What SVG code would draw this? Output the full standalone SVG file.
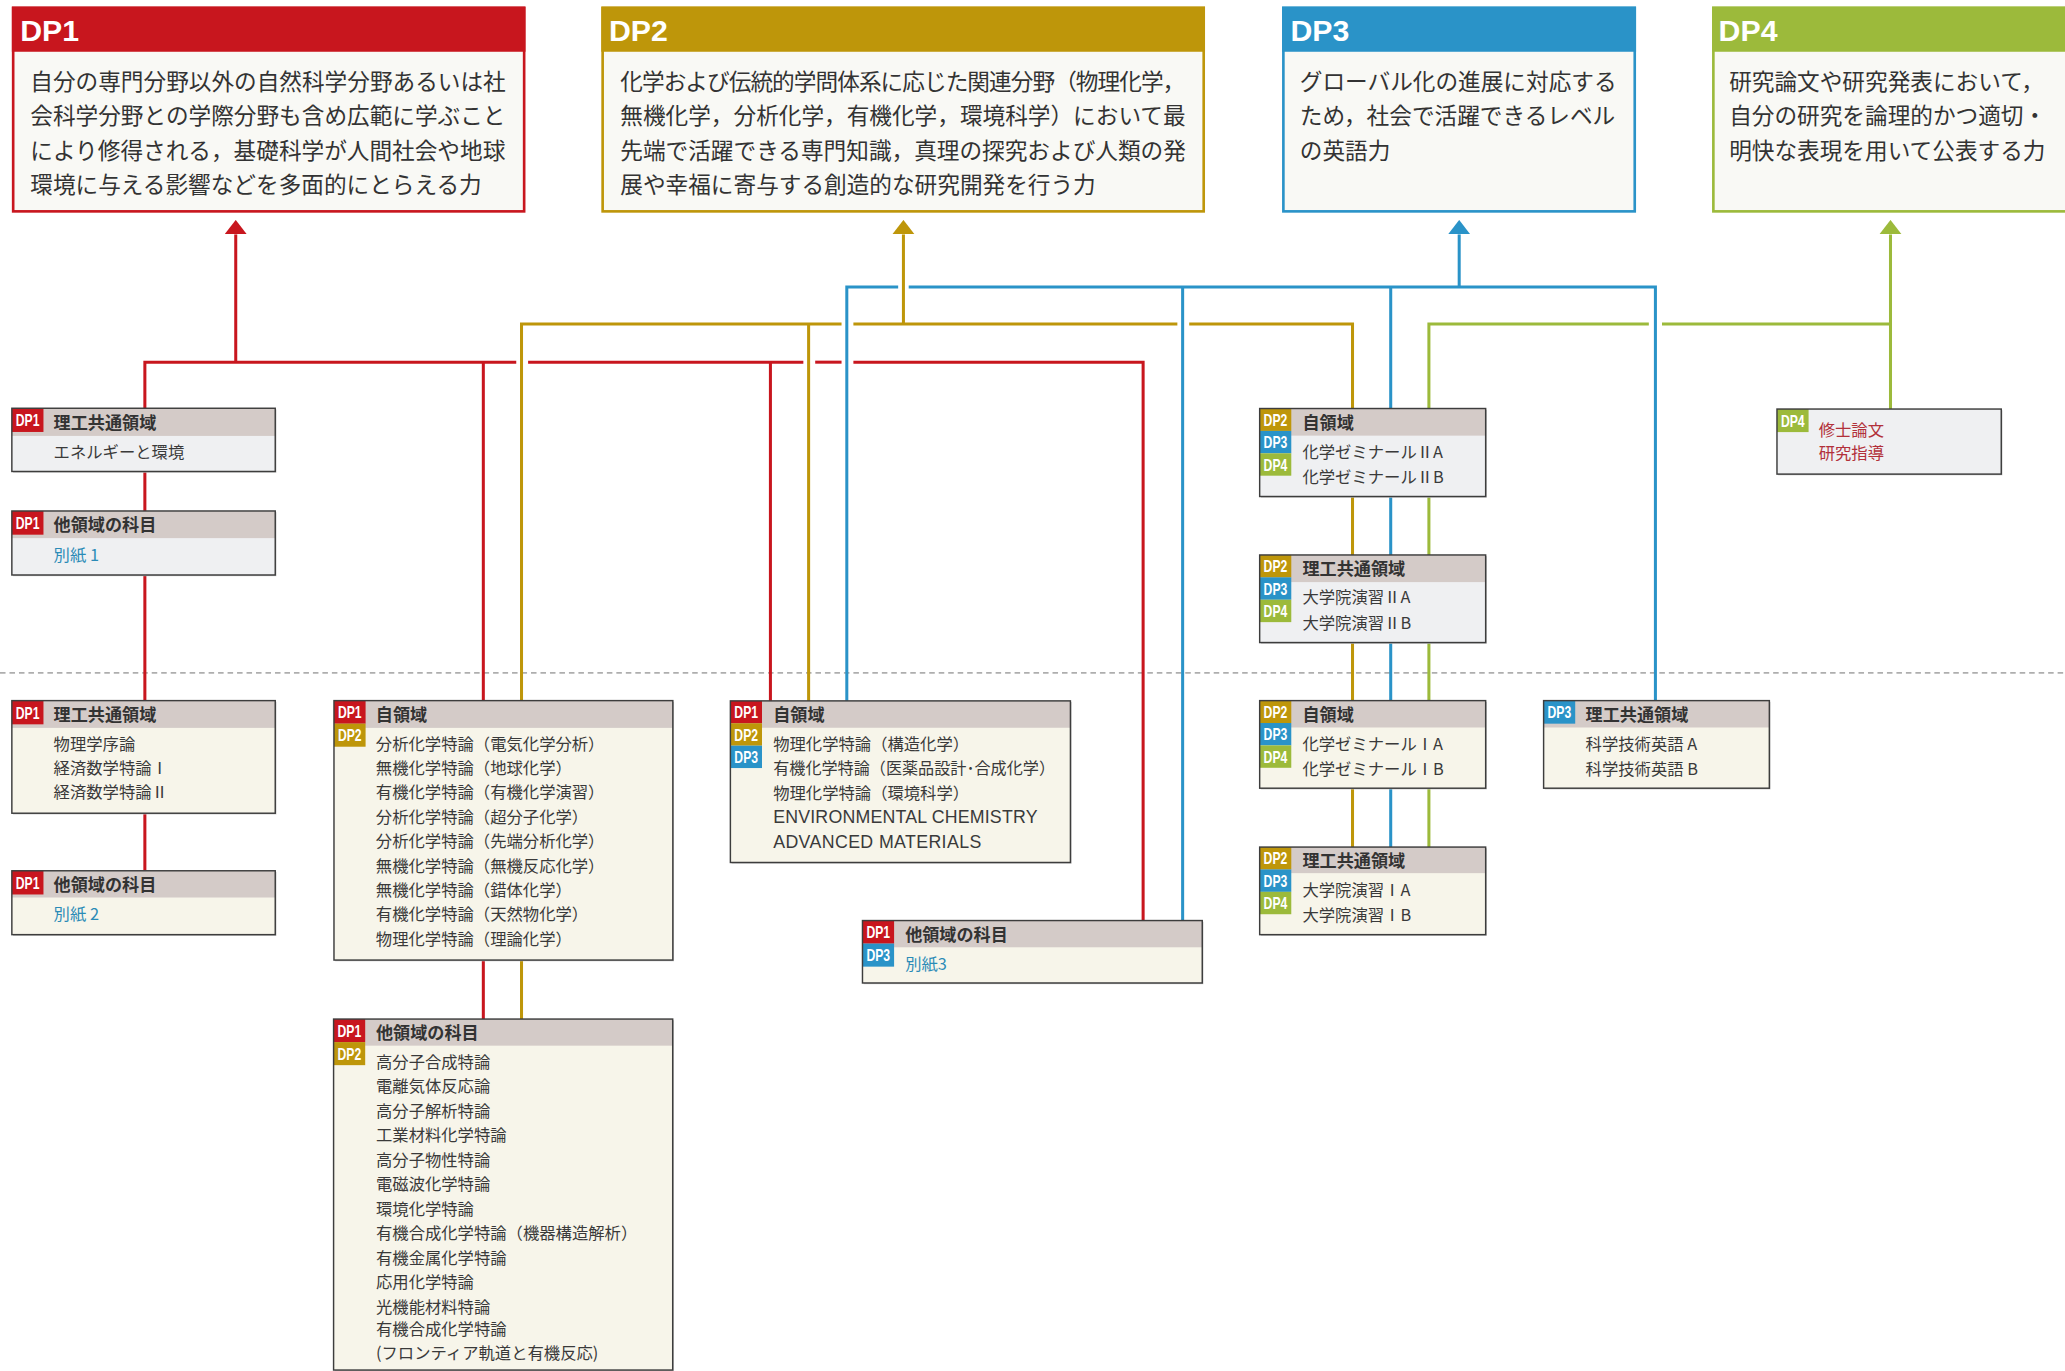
<svg xmlns="http://www.w3.org/2000/svg" width="2065" height="1371" viewBox="0 0 2065 1371">
<defs>
<style>
.ln{fill:none;stroke-width:2.3;stroke-linejoin:miter;stroke-linecap:butt}
.r{stroke:#C8161E}.g{stroke:#BE960A}.b{stroke:#2A93C8}.v{stroke:#9CBA3B}
.fr{fill:#C8161E}.fg{fill:#BE960A}.fb{fill:#2A93C8}.fv{fill:#9CBA3B}
.sh{fill:#C4C4C4}
.gy{fill:#EFF0F2}.cr{fill:#F7F5EA}.hd{fill:#D4CBC8}
.ol{fill:none;stroke:#3D3D3D;stroke-width:1.1}
.bt{font-family:"Liberation Sans",Arial,sans-serif;font-weight:bold;font-size:13px;fill:#fff}
.dh{font-family:"Liberation Sans",Arial,sans-serif;font-weight:bold;font-size:23px;fill:#fff}
.ht{font-family:"Noto Sans CJK JP",sans-serif;font-weight:bold;font-size:13px;fill:#333}
.it{font-family:"Noto Sans CJK JP",sans-serif;font-size:12.4px;fill:#3A3A3A}
.en{font-family:"Liberation Sans",Arial,sans-serif;font-size:13.5px;fill:#3A3A3A}
.lk{fill:#2B8BB7}.rt{fill:#B2303A}
.tt{font-family:"Noto Sans CJK JP",sans-serif;font-size:17.2px;fill:#333}
.tb{fill:#F9F9F5}
</style>
<marker id="a1" viewBox="0 0 11 17" refX="0" refY="8.5" markerWidth="11" markerHeight="17" markerUnits="userSpaceOnUse" orient="auto"><path d="M0,0 L11,8.5 L0,17 Z" fill="#C8161E"/></marker>
<marker id="a2" viewBox="0 0 11 17" refX="0" refY="8.5" markerWidth="11" markerHeight="17" markerUnits="userSpaceOnUse" orient="auto"><path d="M0,0 L11,8.5 L0,17 Z" fill="#BE960A"/></marker>
<marker id="a3" viewBox="0 0 11 17" refX="0" refY="8.5" markerWidth="11" markerHeight="17" markerUnits="userSpaceOnUse" orient="auto"><path d="M0,0 L11,8.5 L0,17 Z" fill="#2A93C8"/></marker>
<marker id="a4" viewBox="0 0 11 17" refX="0" refY="8.5" markerWidth="11" markerHeight="17" markerUnits="userSpaceOnUse" orient="auto"><path d="M0,0 L11,8.5 L0,17 Z" fill="#9CBA3B"/></marker>
</defs>
<rect width="2065" height="1371" fill="#fff"/>
<g transform="scale(1.31696)">
<line x1="0" y1="511" x2="1570" y2="511" stroke="#AEAEAE" stroke-width="1.3" stroke-dasharray="4.2 3"/>

<g id="connectors">
<path class="ln r" d="M110,310 V275 H392"/>
<path class="ln r" d="M401,275 H610"/>
<path class="ln r" d="M619,275 H639"/>
<path class="ln r" d="M648,275 H868 V699"/>
<path class="ln r" d="M179,275 V178" marker-end="url(#a1)"/>
<path class="ln r" d="M367,275 V532"/>
<path class="ln r" d="M585,275 V532.2"/>
<path class="ln r" d="M110,358 V388 M110,436.6 V532 M110,617.5 V661.2 M367,729 V773.8"/>

<path class="ln g" d="M396,532 V246 H639"/>
<path class="ln g" d="M648,246 H894"/>
<path class="ln g" d="M903,246 H1027 V310.2"/>
<path class="ln g" d="M686,246 V178" marker-end="url(#a2)"/>
<path class="ln g" d="M614,246 V532.2"/>
<path class="ln g" d="M396,729 V773.8 M1027,377 V421.4 M1027,487.9 V532 M1027,598.5 V643.2"/>

<path class="ln b" d="M643,532.2 V218 H682"/>
<path class="ln b" d="M690,218 H1257 V532"/>
<path class="ln b" d="M1108,218 V178" marker-end="url(#a3)"/>
<path class="ln b" d="M898,218 V699"/>
<path class="ln b" d="M1056,218 V310.2 M1056,377 V421.4 M1056,487.9 V532 M1056,598.5 V643.2"/>

<path class="ln v" d="M1085,310.2 V246 H1252"/>
<path class="ln v" d="M1262,246 H1435.5"/>
<path class="ln v" d="M1435.5,310.6 V178" marker-end="url(#a4)"/>
<path class="ln v" d="M1085,377 V421.4 M1085,487.9 V532 M1085,598.5 V643.2"/>
</g>

<g id="dp1">
<rect x="10" y="6" width="388" height="154.5" class="tb" stroke="#C8161E" stroke-width="2"/>
<rect x="9" y="5" width="390" height="34.3" class="fr"/>
<text x="15.3" y="31.5" class="dh">DP1</text>
<text class="tt"><tspan x="23" y="68">自分の専門分野以外の自然科学分野あるいは社</tspan><tspan x="23" y="94.3">会科学分野との学際分野も含め広範に学ぶこと</tspan><tspan x="23" y="120.6">により修得される，基礎科学が人間社会や地球</tspan><tspan x="23" y="146.9">環境に与える影響などを多面的にとらえる力</tspan></text>
</g>

<g id="dp2">
<rect x="457.6" y="6" width="456.4" height="154.5" class="tb" stroke="#BE960A" stroke-width="2"/>
<rect x="456.6" y="5" width="458.4" height="34.3" class="fg"/>
<text x="462.4" y="31.5" class="dh">DP2</text>
<text class="tt" x="471" y="68" textLength="429" lengthAdjust="spacing">化学および伝統的学問体系に応じた関連分野（物理化学，</text>
<text class="tt"><tspan x="471" y="94.3">無機化学，分析化学，有機化学，環境科学）において最</tspan><tspan x="471" y="120.6">先端で活躍できる専門知識，真理の探究および人類の発</tspan><tspan x="471" y="146.9">展や幸福に寄与する創造的な研究開発を行う力</tspan></text>
</g>

<g id="dp3">
<rect x="974.5" y="6" width="266.8" height="154.5" class="tb" stroke="#2A93C8" stroke-width="2"/>
<rect x="973.5" y="5" width="268.8" height="34.3" class="fb"/>
<text x="979.9" y="31.5" class="dh">DP3</text>
<text class="tt"><tspan x="987" y="68">グローバル化の進展に対応する</tspan><tspan x="987" y="94.3">ため，社会で活躍できるレベル</tspan><tspan x="987" y="120.6">の英語力</tspan></text>
</g>

<g id="dp4">
<rect x="1301" y="6" width="300" height="154.5" class="tb" stroke="#9CBA3B" stroke-width="2"/>
<rect x="1300" y="5" width="302" height="34.3" class="fv"/>
<text x="1305" y="31.5" class="dh">DP4</text>
<text class="tt"><tspan x="1313" y="68">研究論文や研究発表において，</tspan><tspan x="1313" y="94.3">自分の研究を論理的かつ適切・</tspan><tspan x="1313" y="120.6">明快な表現を用いて公表する力</tspan></text>
</g>

<g id="n-a">
<rect class="sh" x="9.9" y="310.9" width="200" height="48"/>
<rect class="gy" x="9" y="310" width="200" height="48"/>
<rect class="hd" x="9" y="310" width="200" height="21"/>
<rect class="fr" x="9" y="310" width="24" height="18"/>
<text class="bt" x="12" y="323.6" textLength="18" lengthAdjust="spacingAndGlyphs">DP1</text>
<rect class="ol" x="9" y="310" width="200" height="48"/>
<text class="ht" x="40.7" y="325.5">理工共通領域</text>
<text class="it" x="40.7" y="347.7">エネルギーと環境</text>
</g>

<g id="n-b">
<rect class="sh" x="9.9" y="388.9" width="200" height="48.6"/>
<rect class="gy" x="9" y="388" width="200" height="48.6"/>
<rect class="hd" x="9" y="388" width="200" height="20.6"/>
<rect class="fr" x="9" y="388" width="24" height="18"/>
<text class="bt" x="12" y="401.6" textLength="18" lengthAdjust="spacingAndGlyphs">DP1</text>
<rect class="ol" x="9" y="388" width="200" height="48.6"/>
<text class="ht" x="40.7" y="403.5">他領域の科目</text>
<text class="it lk" x="40.7" y="425.7">別紙 1</text>
</g>

<g id="n-c">
<rect class="sh" x="9.9" y="532.9" width="200" height="85.5"/>
<rect class="cr" x="9" y="532" width="200" height="85.5"/>
<rect class="hd" x="9" y="532" width="200" height="20.7"/>
<rect class="fr" x="9" y="532" width="24" height="18"/>
<text class="bt" x="12" y="545.6" textLength="18" lengthAdjust="spacingAndGlyphs">DP1</text>
<rect class="ol" x="9" y="532" width="200" height="85.5"/>
<text class="ht" x="40.7" y="547.5">理工共通領域</text>
<text class="it"><tspan x="40.7" y="569.5">物理学序論</tspan><tspan x="40.7" y="587.8">経済数学特論Ⅰ</tspan><tspan x="40.7" y="606.1">経済数学特論Ⅱ</tspan></text>
</g>

<g id="n-d">
<rect class="sh" x="9.9" y="662.1" width="200" height="48.5"/>
<rect class="cr" x="9" y="661.2" width="200" height="48.5"/>
<rect class="hd" x="9" y="661.2" width="200" height="20.3"/>
<rect class="fr" x="9" y="661.2" width="24" height="18"/>
<text class="bt" x="12" y="674.8" textLength="18" lengthAdjust="spacingAndGlyphs">DP1</text>
<rect class="ol" x="9" y="661.2" width="200" height="48.5"/>
<text class="ht" x="40.7" y="676.5">他領域の科目</text>
<text class="it lk" x="40.7" y="698.7">別紙 2</text>
</g>

<g id="n-e">
<rect class="sh" x="254.5" y="532.9" width="257.3" height="197"/>
<rect class="cr" x="253.6" y="532" width="257.3" height="197"/>
<rect class="hd" x="253.6" y="532" width="257.3" height="20.7"/>
<rect class="fr" x="253.6" y="532" width="24" height="17.5"/>
<text class="bt" x="256.6" y="545.4" textLength="18" lengthAdjust="spacingAndGlyphs">DP1</text>
<rect class="fg" x="253.6" y="549.5" width="24" height="17.5"/>
<text class="bt" x="256.6" y="562.9" textLength="18" lengthAdjust="spacingAndGlyphs">DP2</text>
<rect class="ol" x="253.6" y="532" width="257.3" height="197"/>
<text class="ht" x="285.4" y="547.5">自領域</text>
<text class="it"><tspan x="285.4" y="569.3">分析化学特論（電気化学分析）</tspan><tspan x="285.4" y="587.8">無機化学特論（地球化学）</tspan><tspan x="285.4" y="606.3">有機化学特論（有機化学演習）</tspan><tspan x="285.4" y="624.8">分析化学特論（超分子化学）</tspan><tspan x="285.4" y="643.3">分析化学特論（先端分析化学）</tspan><tspan x="285.4" y="661.8">無機化学特論（無機反応化学）</tspan><tspan x="285.4" y="680.3">無機化学特論（錯体化学）</tspan><tspan x="285.4" y="698.8">有機化学特論（天然物化学）</tspan><tspan x="285.4" y="717.3">物理化学特論（理論化学）</tspan></text>
</g>

<g id="n-f">
<rect class="sh" x="254.2" y="774.7" width="257.5" height="266.5"/>
<rect class="cr" x="253.3" y="773.8" width="257.5" height="266.5"/>
<rect class="hd" x="253.3" y="773.8" width="257.5" height="20.2"/>
<rect class="fr" x="253.3" y="773.8" width="24" height="17.5"/>
<text class="bt" x="256.3" y="787.2" textLength="18" lengthAdjust="spacingAndGlyphs">DP1</text>
<rect class="fg" x="253.3" y="791.3" width="24" height="17.5"/>
<text class="bt" x="256.3" y="804.7" textLength="18" lengthAdjust="spacingAndGlyphs">DP2</text>
<rect class="ol" x="253.3" y="773.8" width="257.5" height="266.5"/>
<text class="ht" x="285.5" y="789.3">他領域の科目</text>
<text class="it"><tspan x="285.5" y="810.9">高分子合成特論</tspan><tspan x="285.5" y="829.5">電離気体反応論</tspan><tspan x="285.5" y="848.1">高分子解析特論</tspan><tspan x="285.5" y="866.7">工業材料化学特論</tspan><tspan x="285.5" y="885.3">高分子物性特論</tspan><tspan x="285.5" y="903.9">電磁波化学特論</tspan><tspan x="285.5" y="922.5">環境化学特論</tspan><tspan x="285.5" y="941.1">有機合成化学特論（機器構造解析）</tspan><tspan x="285.5" y="959.7">有機金属化学特論</tspan><tspan x="285.5" y="978.3">応用化学特論</tspan><tspan x="285.5" y="996.9">光機能材料特論</tspan><tspan x="285.5" y="1013.5">有機合成化学特論</tspan><tspan x="285.5" y="1031.6">(フロンティア軌道と有機反応)</tspan></text>
</g>

<g id="n-g">
<rect class="sh" x="555.5" y="533.1" width="258.2" height="122.7"/>
<rect class="cr" x="554.6" y="532.2" width="258.2" height="122.7"/>
<rect class="hd" x="554.6" y="532.2" width="258.2" height="20.4"/>
<rect class="fr" x="554.6" y="532.2" width="24" height="17"/>
<text class="bt" x="557.6" y="545.3" textLength="18" lengthAdjust="spacingAndGlyphs">DP1</text>
<rect class="fg" x="554.6" y="549.2" width="24" height="17"/>
<text class="bt" x="557.6" y="562.3" textLength="18" lengthAdjust="spacingAndGlyphs">DP2</text>
<rect class="fb" x="554.6" y="566.2" width="24" height="17"/>
<text class="bt" x="557.6" y="579.3" textLength="18" lengthAdjust="spacingAndGlyphs">DP3</text>
<rect class="ol" x="554.6" y="532.2" width="258.2" height="122.7"/>
<text class="ht" x="587.1" y="547.5">自領域</text>
<text class="it"><tspan x="587.1" y="569.2">物理化学特論（構造化学）</tspan></text>
<text class="it" x="587.1" y="587.8" textLength="214" lengthAdjust="spacingAndGlyphs">有機化学特論（医薬品設計･合成化学）</text>
<text class="it"><tspan x="587.1" y="606.4">物理化学特論（環境科学）</tspan></text>
<text class="en" x="587.1" y="625" textLength="200.7" lengthAdjust="spacing">ENVIRONMENTAL CHEMISTRY</text>
<text class="en" x="587.1" y="643.6" textLength="158" lengthAdjust="spacing">ADVANCED MATERIALS</text>
</g>

<g id="n-h">
<rect class="sh" x="655.8" y="699.9" width="258" height="47.4"/>
<rect class="cr" x="654.9" y="699" width="258" height="47.4"/>
<rect class="hd" x="654.9" y="699" width="258" height="20.3"/>
<rect class="fr" x="654.9" y="699" width="24" height="17.5"/>
<text class="bt" x="657.9" y="712.4" textLength="18" lengthAdjust="spacingAndGlyphs">DP1</text>
<rect class="fb" x="654.9" y="716.5" width="24" height="17.5"/>
<text class="bt" x="657.9" y="729.9" textLength="18" lengthAdjust="spacingAndGlyphs">DP3</text>
<rect class="ol" x="654.9" y="699" width="258" height="47.4"/>
<text class="ht" x="687.3" y="714.3">他領域の科目</text>
<text class="it lk" x="687.3" y="736.6">別紙3</text>
</g>

<g id="n-i">
<rect class="sh" x="957.4" y="311.1" width="171.6" height="66.8"/>
<rect class="gy" x="956.5" y="310.2" width="171.6" height="66.8"/>
<rect class="hd" x="956.5" y="310.2" width="171.6" height="20.6"/>
<rect class="fg" x="956.5" y="310.2" width="24" height="17"/>
<text class="bt" x="959.5" y="323.3" textLength="18" lengthAdjust="spacingAndGlyphs">DP2</text>
<rect class="fb" x="956.5" y="327.2" width="24" height="17"/>
<text class="bt" x="959.5" y="340.3" textLength="18" lengthAdjust="spacingAndGlyphs">DP3</text>
<rect class="fv" x="956.5" y="344.2" width="24" height="17"/>
<text class="bt" x="959.5" y="357.3" textLength="18" lengthAdjust="spacingAndGlyphs">DP4</text>
<rect class="ol" x="956.5" y="310.2" width="171.6" height="66.8"/>
<text class="ht" x="989" y="325.7">自領域</text>
<text class="it"><tspan x="989" y="347.5">化学ゼミナールⅡA</tspan><tspan x="989" y="366.4">化学ゼミナールⅡB</tspan></text>
</g>

<g id="n-j">
<rect class="sh" x="957.4" y="422.3" width="171.6" height="66.5"/>
<rect class="gy" x="956.5" y="421.4" width="171.6" height="66.5"/>
<rect class="hd" x="956.5" y="421.4" width="171.6" height="20.6"/>
<rect class="fg" x="956.5" y="421.4" width="24" height="17"/>
<text class="bt" x="959.5" y="434.5" textLength="18" lengthAdjust="spacingAndGlyphs">DP2</text>
<rect class="fb" x="956.5" y="438.4" width="24" height="17"/>
<text class="bt" x="959.5" y="451.5" textLength="18" lengthAdjust="spacingAndGlyphs">DP3</text>
<rect class="fv" x="956.5" y="455.4" width="24" height="17"/>
<text class="bt" x="959.5" y="468.5" textLength="18" lengthAdjust="spacingAndGlyphs">DP4</text>
<rect class="ol" x="956.5" y="421.4" width="171.6" height="66.5"/>
<text class="ht" x="989" y="436.9">理工共通領域</text>
<text class="it"><tspan x="989" y="458.1">大学院演習ⅡA</tspan><tspan x="989" y="477.7">大学院演習ⅡB</tspan></text>
</g>

<g id="n-k">
<rect class="sh" x="957.4" y="532.9" width="171.6" height="66.5"/>
<rect class="cr" x="956.5" y="532" width="171.6" height="66.5"/>
<rect class="hd" x="956.5" y="532" width="171.6" height="20.4"/>
<rect class="fg" x="956.5" y="532" width="24" height="17"/>
<text class="bt" x="959.5" y="545.1" textLength="18" lengthAdjust="spacingAndGlyphs">DP2</text>
<rect class="fb" x="956.5" y="549" width="24" height="17"/>
<text class="bt" x="959.5" y="562.1" textLength="18" lengthAdjust="spacingAndGlyphs">DP3</text>
<rect class="fv" x="956.5" y="566" width="24" height="17"/>
<text class="bt" x="959.5" y="579.1" textLength="18" lengthAdjust="spacingAndGlyphs">DP4</text>
<rect class="ol" x="956.5" y="532" width="171.6" height="66.5"/>
<text class="ht" x="989" y="547.3">自領域</text>
<text class="it"><tspan x="989" y="569.3">化学ゼミナールⅠA</tspan><tspan x="989" y="588.3">化学ゼミナールⅠB</tspan></text>
</g>

<g id="n-l">
<rect class="sh" x="957.4" y="644.1" width="171.6" height="66.5"/>
<rect class="cr" x="956.5" y="643.2" width="171.6" height="66.5"/>
<rect class="hd" x="956.5" y="643.2" width="171.6" height="19.8"/>
<rect class="fg" x="956.5" y="643.2" width="24" height="17"/>
<text class="bt" x="959.5" y="656.3" textLength="18" lengthAdjust="spacingAndGlyphs">DP2</text>
<rect class="fb" x="956.5" y="660.2" width="24" height="17"/>
<text class="bt" x="959.5" y="673.3" textLength="18" lengthAdjust="spacingAndGlyphs">DP3</text>
<rect class="fv" x="956.5" y="677.2" width="24" height="17"/>
<text class="bt" x="959.5" y="690.3" textLength="18" lengthAdjust="spacingAndGlyphs">DP4</text>
<rect class="ol" x="956.5" y="643.2" width="171.6" height="66.5"/>
<text class="ht" x="989" y="658.4">理工共通領域</text>
<text class="it"><tspan x="989" y="680">大学院演習ⅠA</tspan><tspan x="989" y="699.5">大学院演習ⅠB</tspan></text>
</g>

<g id="n-m">
<rect class="sh" x="1173" y="532.9" width="171.4" height="66.5"/>
<rect class="cr" x="1172.1" y="532" width="171.4" height="66.5"/>
<rect class="hd" x="1172.1" y="532" width="171.4" height="20.4"/>
<rect class="fb" x="1172.1" y="532" width="24" height="17.5"/>
<text class="bt" x="1175.1" y="545.4" textLength="18" lengthAdjust="spacingAndGlyphs">DP3</text>
<rect class="ol" x="1172.1" y="532" width="171.4" height="66.5"/>
<text class="ht" x="1204" y="547.3">理工共通領域</text>
<text class="it"><tspan x="1204" y="569.3">科学技術英語 A</tspan><tspan x="1204" y="588.3">科学技術英語 B</tspan></text>
</g>

<g id="n-n">
<rect class="sh" x="1350.2" y="311.5" width="170.3" height="49.4"/>
<rect class="gy" x="1349.3" y="310.6" width="170.3" height="49.4"/>
<rect class="fv" x="1349.3" y="310.6" width="24" height="17.5"/>
<text class="bt" x="1352.3" y="324" textLength="18" lengthAdjust="spacingAndGlyphs">DP4</text>
<rect class="ol" x="1349.3" y="310.6" width="170.3" height="49.4"/>
<text class="it rt"><tspan x="1381" y="331.2">修士論文</tspan><tspan x="1381" y="348.9">研究指導</tspan></text>
</g>
</g>
</svg>
